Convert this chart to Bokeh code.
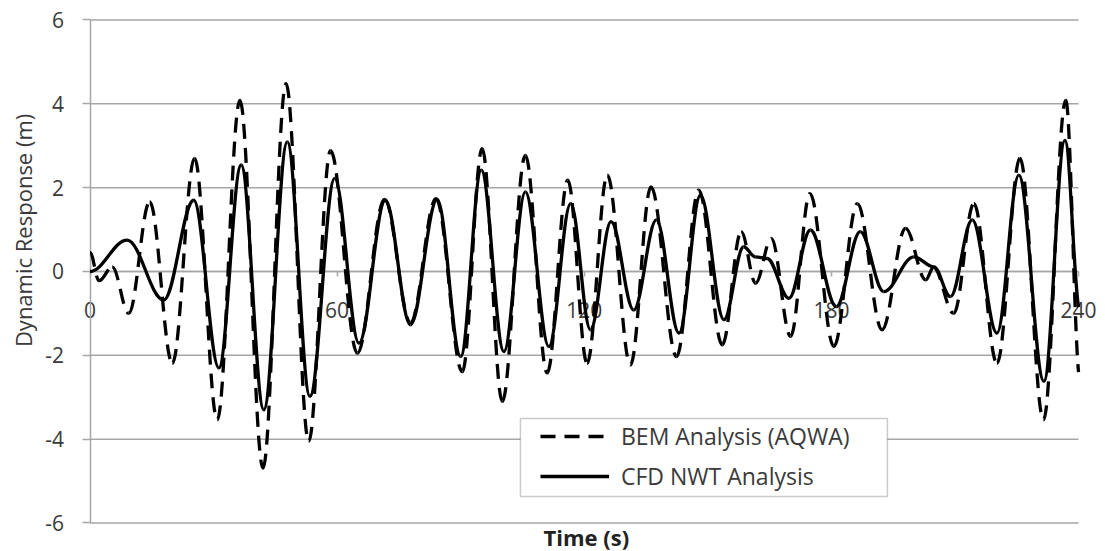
import math
import numpy as np
from bokeh.plotting import figure
from bokeh.models import (ColumnDataSource, LinearAxis, FixedTicker, Range1d,
                          Label, BoxAnnotation, Legend, LegendItem)
from bokeh.embed import file_html
from bokeh.resources import INLINE

# Turning points of the heave response records: time (s) and response (m)
bem_time = [0.0, 2.2, 5.4, 9.4, 14.5, 20.0, 25.4, 30.9, 36.4, 42.0, 47.6, 53.1,
            58.4, 64.9, 71.5, 77.8, 84.0, 90.4, 95.2, 100.1, 105.7, 111.0, 116.0,
            120.7, 125.6, 131.2, 136.2, 142.4, 147.8, 153.5, 158.1, 161.6, 165.4,
            170.1, 174.8, 180.6, 186.3, 192.3, 198.0, 202.9, 204.8, 209.7, 214.6,
            220.2, 225.8, 231.5, 236.9, 240.0]
bem_resp = [0.45, -0.22, 0.11, -1.00, 1.66, -2.19, 2.70, -3.54, 4.08, -4.69, 4.48, -4.05,
            2.88, -1.95, 1.72, -1.22, 1.74, -2.39, 2.93, -3.10, 2.77, -2.42, 2.18,
            -2.19, 2.30, -2.23, 2.02, -2.03, 1.94, -1.75, 0.95, -0.28, 0.79,
            -1.55, 1.86, -1.79, 1.62, -1.39, 1.03, -0.20, 0.10, -1.00, 1.62,
            -2.19, 2.70, -3.54, 4.08, -2.40]

cfd_time = [0.0, 9.0, 17.9, 25.2, 31.3, 36.7, 42.2, 47.9, 53.4, 59.4, 65.3, 71.7,
            77.8, 84.3, 90.0, 95.0, 100.5, 105.7, 111.4, 116.7, 121.5, 126.5, 132.0,
            137.5, 143.0, 148.2, 153.9, 158.7, 161.5, 164.4, 169.7, 174.9, 181.2,
            187.0, 192.7, 200.0, 204.9, 208.9, 214.2, 220.2, 225.5, 231.6, 236.7, 240.0]
cfd_resp = [0.00, 0.75, -0.68, 1.70, -2.30, 2.54, -3.30, 3.09, -2.98, 2.22, -1.71, 1.70,
            -1.27, 1.72, -2.03, 2.42, -1.91, 1.90, -1.79, 1.62, -1.39, 1.19, -0.92,
            1.23, -1.47, 1.82, -1.15, 0.59, 0.35, 0.31, -0.64, 0.99, -0.84,
            0.95, -0.48, 0.35, 0.11, -0.60, 1.23, -1.47, 2.30, -2.62, 3.13, -0.85]

x_ticks = [0, 60, 120, 180, 240]
y_ticks = [-6, -4, -2, 0, 2, 4, 6]

FONT = "Open Sans"
GRID = "#a6a6a6"
TEXT = "#3a3a3a"


def smooth_segments(t, v, k=0.3642):
    """Cubic Bezier pieces between turning points (flat tangents at the turns,
    eased tangent at the open end of the record)."""
    t = np.asarray(t, float)
    v = np.asarray(v, float)
    x0, x1, y0, y1 = t[:-1], t[1:], v[:-1], v[1:]
    dt = x1 - x0
    cy0 = y0.copy()
    cy1 = y1.copy()
    cy1[-1] = y1[-1] + k * (y0[-1] - y1[-1]) * 0.5
    return ColumnDataSource(dict(x0=x0, y0=y0, x1=x1, y1=y1,
                                 cx0=x0 + k * dt, cy0=cy0, cx1=x1 - k * dt, cy1=cy1))


# the canvas is one frame; the axes sit at fixed data locations inside it
p = figure(width=1105, height=551, min_border=0,
           x_range=Range1d(-21.73, 246.55), y_range=Range1d(-6.68, 6.465),
           x_axis_type=None, y_axis_type=None,
           output_backend="svg", toolbar_location=None)
p.outline_line_color = None
p.background_fill_color = "white"
p.border_fill_color = "white"

# horizontal grid lines across the time span
p.segment(x0=[x_ticks[0]] * len(y_ticks), x1=[x_ticks[-1]] * len(y_ticks),
          y0=y_ticks, y1=y_ticks, line_color=GRID, line_width=1.5, level="underlay")

neg_labels = {t: "-%d" % abs(t) for t in y_ticks if t < 0}

yaxis = LinearAxis(ticker=FixedTicker(ticks=y_ticks), fixed_location=0, bounds=(-6, 6),
                   axis_line_color=GRID, axis_line_width=1.5,
                   major_tick_line_color=GRID, major_tick_line_width=1.5,
                   major_tick_out=8, major_tick_in=0,
                   minor_tick_out=0, minor_tick_in=0,
                   major_label_standoff=18, major_label_overrides=neg_labels,
                   major_label_text_font=FONT, major_label_text_font_size="21px",
                   major_label_text_color=TEXT)
yaxis.level = "underlay"
p.add_layout(yaxis, "left")

xaxis = LinearAxis(ticker=FixedTicker(ticks=x_ticks), fixed_location=0, bounds=(0, 240),
                   axis_line_color=GRID, axis_line_width=1.5,
                   major_tick_line_color=GRID, major_tick_line_width=1.5,
                   major_tick_out=5, major_tick_in=0,
                   minor_tick_out=0, minor_tick_in=0,
                   major_label_standoff=26,
                   major_label_text_font=FONT, major_label_text_font_size="21px",
                   major_label_text_color=TEXT)
xaxis.level = "underlay"
p.add_layout(xaxis, "below")

r_bem = p.bezier(x0="x0", y0="y0", x1="x1", y1="y1", cx0="cx0", cy0="cy0",
                 cx1="cx1", cy1="cy1", source=smooth_segments(bem_time, bem_resp),
                 line_color="black", line_width=3.3, line_dash="15 9")
r_cfd = p.bezier(x0="x0", y0="y0", x1="x1", y1="y1", cx0="cx0", cy0="cy0",
                 cx1="cx1", cy1="cy1", source=smooth_segments(cfd_time, cfd_resp),
                 line_color="black", line_width=3.3)

# legend frame
p.add_layout(BoxAnnotation(left=104.5, right=193.6, top=-3.506, bottom=-5.367,
                           fill_color="white", fill_alpha=1.0,
                           line_color="#505050", line_width=1.5))

legend = Legend(items=[LegendItem(label="BEM Analysis (AQWA)", renderers=[r_bem]),
                       LegendItem(label="CFD NWT Analysis", renderers=[r_cfd])],
                location=(536, 55), padding=4, spacing=8,
                glyph_width=69, glyph_height=28, label_height=28, label_standoff=12,
                label_text_font=FONT, label_text_font_size="23px",
                label_text_color=TEXT,
                border_line_alpha=0, background_fill_alpha=0)
p.add_layout(legend)

p.add_layout(Label(x=-16.15, y=0.98, text="Dynamic Response (m)", angle=math.pi / 2,
                   text_align="center", text_baseline="middle",
                   text_font=FONT, text_font_size="22px", text_color=TEXT))
p.add_layout(Label(x=120.5, y=-6.34, text="Time (s)",
                   text_align="center", text_baseline="middle",
                   text_font=FONT, text_font_size="22px", text_font_style="bold",
                   text_color="#222222"))

open("out.html", "w").write(file_html(p, INLINE))
